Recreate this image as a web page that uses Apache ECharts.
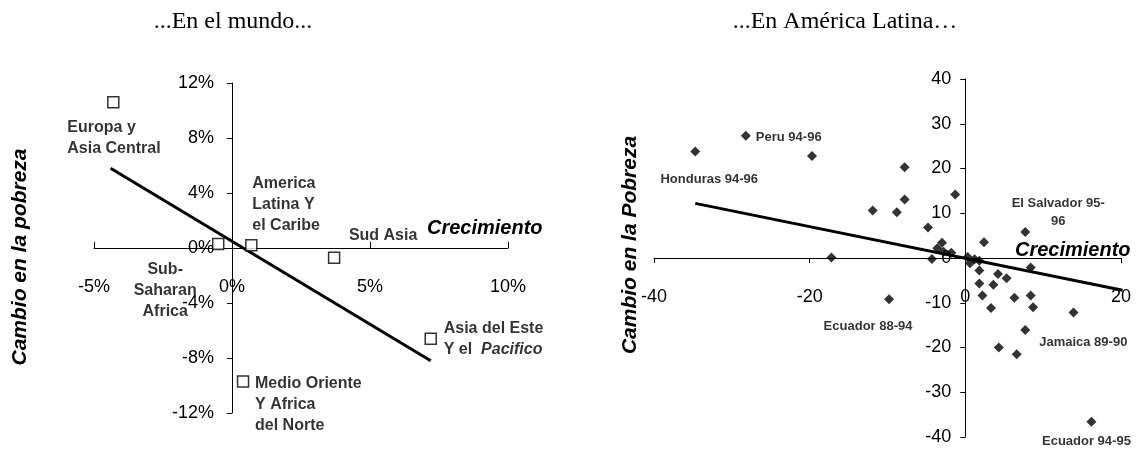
<!DOCTYPE html>
<html>
<head>
<meta charset="utf-8">
<script src="https://cdn.jsdelivr.net/npm/echarts@6/dist/echarts.min.js"></script>
<style>
  html, body { margin: 0; padding: 0; background: #fff; }
  #chart { width: 1136px; height: 450px; }
</style>
</head>
<body>
<div id="chart"></div>
<script>
// ...En el mundo... (crecimiento % vs cambio en la pobreza %)
const mundoRegiones = ['Europa y\nAsia Central', 'Sub-\nSaharan\nAfrica', 'America\nLatina Y\nel Caribe', 'Sud Asia', 'Asia del Este\nY el  {i|Pacifico}', 'Medio Oriente\nY Africa\ndel Norte'];
const mundoCrecimiento = [-4.3, -0.5, 0.7, 3.7, 7.2, 0.4];
const mundoPobreza = [10.6, 0.3, 0.2, -0.7, -6.6, -9.7];
const mundoTendencia = [[-4.4, 5.8], [7.2, -8.2]];
const mundoTicksX = [-5, 0, 5, 10];
const mundoTicksY = [-12, -8, -4, 0, 4, 8, 12];

// ...En America Latina...
const alCrecimiento = [-34.7, -28.2, -19.7, -17.2, -11.9, -9.8, -8.8, -7.8, -7.8, -4.8, -4.3, -3.6, -3.0, -2.8, -1.8, -1.3, 0.3, 0.6, 1.2, 1.8, 2.4, 7.7, 8.4, 1.8, 4.2, 5.3, 1.8, 3.6, 2.2, 6.3, 8.4, 3.3, 8.7, 13.9, 7.7, 4.3, 6.6, 16.2];
const alPobreza = [23.8, 27.3, 22.8, 0.1, 10.6, -9.2, 10.2, 20.3, 13.1, 6.8, -0.2, 2.2, 3.4, 1.4, 1.2, 14.2, 0.2, -1.2, -0.3, -0.6, 3.5, 5.8, -2.1, -2.8, -3.6, -4.5, -5.7, -6.0, -8.4, -8.9, -8.4, -11.2, -11.0, -12.2, -16.1, -20.0, -21.5, -36.6];
const alEtiquetas = { 0: 'Honduras 94-96', 1: 'Peru 94-96', 5: 'Ecuador 88-94', 21: 'El Salvador 95-\n96', 34: 'Jamaica 89-90', 37: 'Ecuador 94-95' };
const alTendencia = [[-34.7, 12.2], [20.2, -7.2]];

// label placement (px offsets from the marker)
const mundoLabelPos = [
  { align: 'left', offset: [-46, 36] },
  { align: 'center', offset: [-53, 47] },
  { align: 'left', offset: [1, -41] },
  { align: 'center', offset: [49, -22] },
  { align: 'left', offset: [13, 0] },
  { align: 'left', offset: [12, 23] }
];
const alLabelPos = {
  0: { align: 'center', offset: [14, 28] },
  1: { align: 'left', offset: [10, 2] },
  5: { align: 'center', offset: [-21, 27] },
  21: { align: 'center', offset: [33, -20] },
  34: { align: 'center', offset: [58, 12] },
  37: { align: 'center', offset: [-5, 20] }
};

const SANS = '"Liberation Sans", Arial, sans-serif';
const SERIF = '"Liberation Serif", "Times New Roman", serif';

const mundoData = mundoCrecimiento.map((x, i) => ({
  value: [x, mundoPobreza[i]],
  label: {
    show: true,
    position: 'inside',
    formatter: mundoRegiones[i],
    align: mundoLabelPos[i].align,
    verticalAlign: 'middle',
    offset: mundoLabelPos[i].offset,
    color: '#000',
    fontFamily: SANS,
    fontWeight: 'bold',
    fontSize: 16,
    lineHeight: 21,
    rich: { i: { fontStyle: 'italic', fontWeight: 'bold', fontSize: 16, fontFamily: SANS, color: '#000' } }
  }
}));

const alData = alCrecimiento.map((x, i) => {
  const item = { value: [x, alPobreza[i]] };
  if (alEtiquetas[i]) {
    item.label = {
      show: true,
      position: 'inside',
      formatter: alEtiquetas[i],
      align: alLabelPos[i].align,
      verticalAlign: 'middle',
      offset: alLabelPos[i].offset,
      color: '#000',
      fontFamily: SANS,
      fontWeight: 'bold',
      fontSize: 13,
      lineHeight: 18
    };
  }
  return item;
});

const axisLbl = { color: '#000', fontFamily: SANS, fontSize: 18 };
const axLine = { onZero: false, lineStyle: { color: '#000', width: 1 } };

const chart = echarts.init(document.getElementById('chart'));
chart.setOption({
  animation: false,
  backgroundColor: '#fff',
  grid: [
    { left: 94, top: 83, width: 414, height: 330, outerBoundsMode: 'none' },
    { left: 654, top: 79, width: 467, height: 358, outerBoundsMode: 'none' }
  ],
  xAxis: [
    {
      gridIndex: 0, type: 'value', min: mundoTicksX[0], max: mundoTicksX[mundoTicksX.length - 1], interval: 5,
      position: 'bottom', offset: -165,
      axisLine: axLine,
      axisTick: { show: true, inside: true, length: 6, lineStyle: { color: '#000' } },
      axisLabel: Object.assign({ margin: 30, formatter: '{value}%' }, axisLbl),
      splitLine: { show: false }
    },
    {
      gridIndex: 1, type: 'value', min: -40, max: 20, interval: 20,
      position: 'bottom', offset: -179,
      axisLine: axLine,
      axisTick: { show: true, length: 5, lineStyle: { color: '#000' } },
      axisLabel: Object.assign({ margin: 30 }, axisLbl),
      splitLine: { show: false }
    }
  ],
  yAxis: [
    {
      gridIndex: 0, type: 'value', min: mundoTicksY[0], max: mundoTicksY[mundoTicksY.length - 1], interval: 4,
      position: 'left', offset: -138,
      axisLine: axLine,
      axisTick: { show: true, length: 5, lineStyle: { color: '#000' } },
      axisLabel: Object.assign({ margin: 18, formatter: '{value}%' }, axisLbl),
      splitLine: { show: false }
    },
    {
      gridIndex: 1, type: 'value', min: -40, max: 40, interval: 10,
      position: 'left', offset: -311.3,
      axisLine: axLine,
      axisTick: { show: true, length: 5, lineStyle: { color: '#000' } },
      axisLabel: Object.assign({ margin: 14 }, axisLbl),
      splitLine: { show: false }
    }
  ],
  graphic: [
    { type: 'text', x: 233, y: 22, style: { text: '...En el mundo...', align: 'center', verticalAlign: 'middle', font: '24px ' + SERIF, fill: '#000' } },
    { type: 'text', x: 845, y: 22, style: { text: '...En América Latina…', align: 'center', verticalAlign: 'middle', font: '24px ' + SERIF, fill: '#000' } },
    { type: 'text', x: 20, y: 257, rotation: Math.PI / 2, style: { text: 'Cambio en la pobreza', align: 'center', verticalAlign: 'middle', font: 'italic bold 21px ' + SANS, fill: '#000' } },
    { type: 'text', x: 630, y: 245, rotation: Math.PI / 2, style: { text: 'Cambio en la Pobreza', align: 'center', verticalAlign: 'middle', font: 'italic bold 21px ' + SANS, fill: '#000' } },
    { type: 'text', x: 427, y: 228, style: { text: 'Crecimiento', align: 'left', verticalAlign: 'middle', font: 'italic bold 20px ' + SANS, fill: '#000' } },
    { type: 'text', x: 1015, y: 250, style: { text: 'Crecimiento', align: 'left', verticalAlign: 'middle', font: 'italic bold 20px ' + SANS, fill: '#000' } }
  ],
  series: [
    {
      type: 'line', xAxisIndex: 0, yAxisIndex: 0, data: mundoTendencia,
      symbol: 'none', lineStyle: { color: '#000', width: 3 }, z: 3
    },
    {
      type: 'scatter', xAxisIndex: 0, yAxisIndex: 0, data: mundoData,
      symbol: 'rect', symbolSize: 11,
      itemStyle: { color: '#fff', borderColor: '#000', borderWidth: 1.5 }, z: 4
    },
    {
      type: 'line', xAxisIndex: 1, yAxisIndex: 1, data: alTendencia,
      symbol: 'none', lineStyle: { color: '#000', width: 3 }, z: 3
    },
    {
      type: 'scatter', xAxisIndex: 1, yAxisIndex: 1, data: alData,
      symbol: 'diamond', symbolSize: 10,
      itemStyle: { color: '#000' }, z: 4
    }
  ]
});
</script>
</body>
</html>
